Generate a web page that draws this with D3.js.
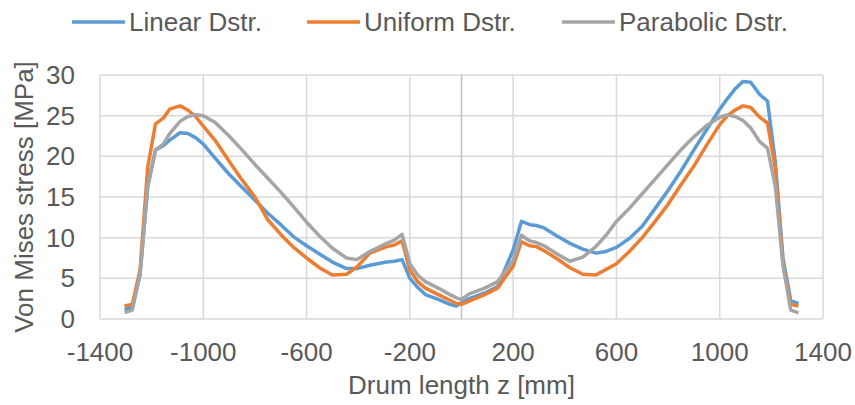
<!DOCTYPE html>
<html>
<head>
<meta charset="utf-8">
<script src="https://cdn.jsdelivr.net/npm/d3@7"></script>
<style>
  body { margin: 0; background: #fff; }
  text { font-family: "Liberation Sans", Arial, sans-serif; fill: #595959; }
</style>
</head>
<body>
<div id="chart"></div>
<script>
// drum positions (mm)
var zPos = [-1305, -1275, -1245, -1215, -1185, -1155, -1130, -1090, -1060, -1030, -1000, -955, -900, -850, -800, -750, -700, -650, -600, -550, -500, -445, -405, -355, -290, -260, -230, -200, -170, -140, -90, -45, -20, 0, 30, 90, 140, 200, 232, 265, 290, 320, 370, 420, 470, 520, 560, 600, 650, 700, 750, 800, 850, 900, 950, 1000, 1030, 1060, 1090, 1120, 1155, 1185, 1215, 1245, 1275, 1305];

var linearDstr = [1.2, 1.4, 5.4, 16.3, 20.8, 21.3, 22.0, 22.9, 22.8, 22.3, 21.5, 19.8, 17.8, 16.2, 14.6, 13.0, 11.6, 10.1, 9.0, 8.0, 7.0, 6.2, 6.2, 6.6, 7.0, 7.1, 7.3, 5.0, 3.9, 3.0, 2.4, 1.8, 1.6, 2.0, 2.5, 3.2, 4.0, 8.5, 12.0, 11.6, 11.5, 11.2, 10.2, 9.3, 8.6, 8.1, 8.3, 8.8, 9.9, 11.4, 13.6, 15.8, 18.2, 20.8, 23.3, 25.8, 27.1, 28.3, 29.2, 29.1, 27.6, 26.8, 19.4, 7.5, 2.3, 1.9];

var uniformDstr = [1.6, 1.8, 6.0, 18.7, 24.0, 24.7, 25.8, 26.2, 25.7, 24.9, 23.7, 22.0, 19.4, 17.1, 15.0, 12.2, 10.4, 8.8, 7.5, 6.3, 5.4, 5.5, 6.4, 8.1, 8.9, 9.1, 9.6, 6.0, 4.6, 3.8, 3.0, 2.3, 1.9, 1.8, 2.2, 3.0, 3.8, 6.5, 9.5, 9.0, 8.9, 8.4, 7.4, 6.3, 5.5, 5.4, 6.1, 6.8, 8.3, 10.0, 12.0, 14.1, 16.5, 18.8, 21.4, 23.9, 25.0, 25.7, 26.2, 26.0, 24.8, 24.1, 18.6, 6.8, 1.8, 1.6];

var parabolicDstr = [0.8, 1.1, 5.5, 16.4, 20.8, 21.5, 22.8, 24.3, 24.9, 25.1, 25.0, 24.2, 22.5, 20.8, 19.0, 17.3, 15.6, 13.8, 11.9, 10.2, 8.7, 7.5, 7.3, 8.3, 9.3, 9.7, 10.4, 6.8, 5.4, 4.6, 3.8, 3.0, 2.6, 2.4, 3.1, 3.8, 4.6, 7.2, 10.3, 9.6, 9.4, 9.0, 8.0, 7.1, 7.6, 8.9, 10.3, 12.0, 13.6, 15.4, 17.2, 19.0, 20.8, 22.4, 23.8, 24.8, 25.1, 24.9, 24.4, 23.5, 21.8, 21.0, 16.4, 6.6, 1.1, 0.75];

var seriesNames = ["Linear Dstr.", "Uniform Dstr.", "Parabolic Dstr."];
var seriesColors = ["#5b9bd5", "#ed7d31", "#a5a5a5"];
var xTicks = [-1400, -1000, -600, -200, 200, 600, 1000, 1400];
var yTicks = [0, 5, 10, 15, 20, 25, 30];

var width = 855,
    height = 405;
var margin = {top: 75, right: 32, bottom: 86, left: 100};
var fontSize = "26px";

var svg = d3.select("#chart").append("svg")
    .attr("width", width)
    .attr("height", height);

var xScale = d3.scaleLinear()
    .domain([-1400, 1400])
    .range([margin.left, width - margin.right]);

var yScale = d3.scaleLinear()
    .domain([0, 30])
    .range([height - margin.bottom, margin.top]);

// gridlines
svg.append("g")
    .selectAll("line")
    .data(yTicks)
    .enter()
    .append("line")
    .attr("x1", xScale(-1400))
    .attr("x2", xScale(1400))
    .attr("y1", d => yScale(d))
    .attr("y2", d => yScale(d))
    .style("stroke", "#d9d9d9")
    .style("stroke-width", 1.5);

svg.append("g")
    .selectAll("line")
    .data(xTicks)
    .enter()
    .append("line")
    .attr("x1", d => xScale(d))
    .attr("x2", d => xScale(d))
    .attr("y1", yScale(0))
    .attr("y2", yScale(30))
    .style("stroke", "#d9d9d9")
    .style("stroke-width", 1.5);

// value axis crosses at z = 0
svg.append("line")
    .attr("x1", xScale(0))
    .attr("x2", xScale(0))
    .attr("y1", yScale(0))
    .attr("y2", yScale(30))
    .style("stroke", "#bfbfbf")
    .style("stroke-width", 1.5);

// tick labels
svg.append("g")
    .selectAll("text")
    .data(yTicks)
    .enter()
    .append("text")
    .attr("x", margin.left - 25)
    .attr("y", d => yScale(d))
    .attr("dy", "0.35em")
    .attr("text-anchor", "end")
    .style("font-size", fontSize)
    .text(d => d);

svg.append("g")
    .selectAll("text")
    .data(xTicks)
    .enter()
    .append("text")
    .attr("x", d => xScale(d))
    .attr("y", yScale(0) + 33)
    .attr("dy", "0.35em")
    .attr("text-anchor", "middle")
    .style("font-size", fontSize)
    .text(d => d);

// axis titles
svg.append("text")
    .attr("x", (xScale(-1400) + xScale(1400)) / 2)
    .attr("y", 385)
    .attr("dy", "0.35em")
    .attr("text-anchor", "middle")
    .style("font-size", fontSize)
    .text("Drum length z [mm]");

svg.append("text")
    .attr("transform", "translate(24," + ((yScale(0) + yScale(30)) / 2) + ") rotate(-90)")
    .attr("dy", "0.35em")
    .attr("text-anchor", "middle")
    .style("font-size", fontSize)
    .text("Von Mises stress [MPa]");

// lines
var allSeries = [linearDstr, uniformDstr, parabolicDstr];
var line = d3.line()
    .x((d, i) => xScale(zPos[i]))
    .y(d => yScale(d));

svg.append("g")
    .selectAll("path")
    .data(allSeries)
    .enter()
    .append("path")
    .attr("d", d => line(d))
    .style("fill", "none")
    .style("stroke", (d, i) => seriesColors[i])
    .style("stroke-width", 3.5)
    .style("stroke-linejoin", "round");

// legend
var legendX = [72, 307, 562];
var legend = svg.append("g")
    .selectAll("g")
    .data(seriesNames)
    .enter()
    .append("g")
    .attr("transform", (d, i) => "translate(" + legendX[i] + ",22)");

legend.append("line")
    .attr("x1", 0)
    .attr("x2", 53)
    .style("stroke", (d, i) => seriesColors[i])
    .style("stroke-width", 3.5);

legend.append("text")
    .attr("x", 57)
    .attr("dy", "0.35em")
    .style("font-size", fontSize)
    .text(d => d);
</script>
</body>
</html>
